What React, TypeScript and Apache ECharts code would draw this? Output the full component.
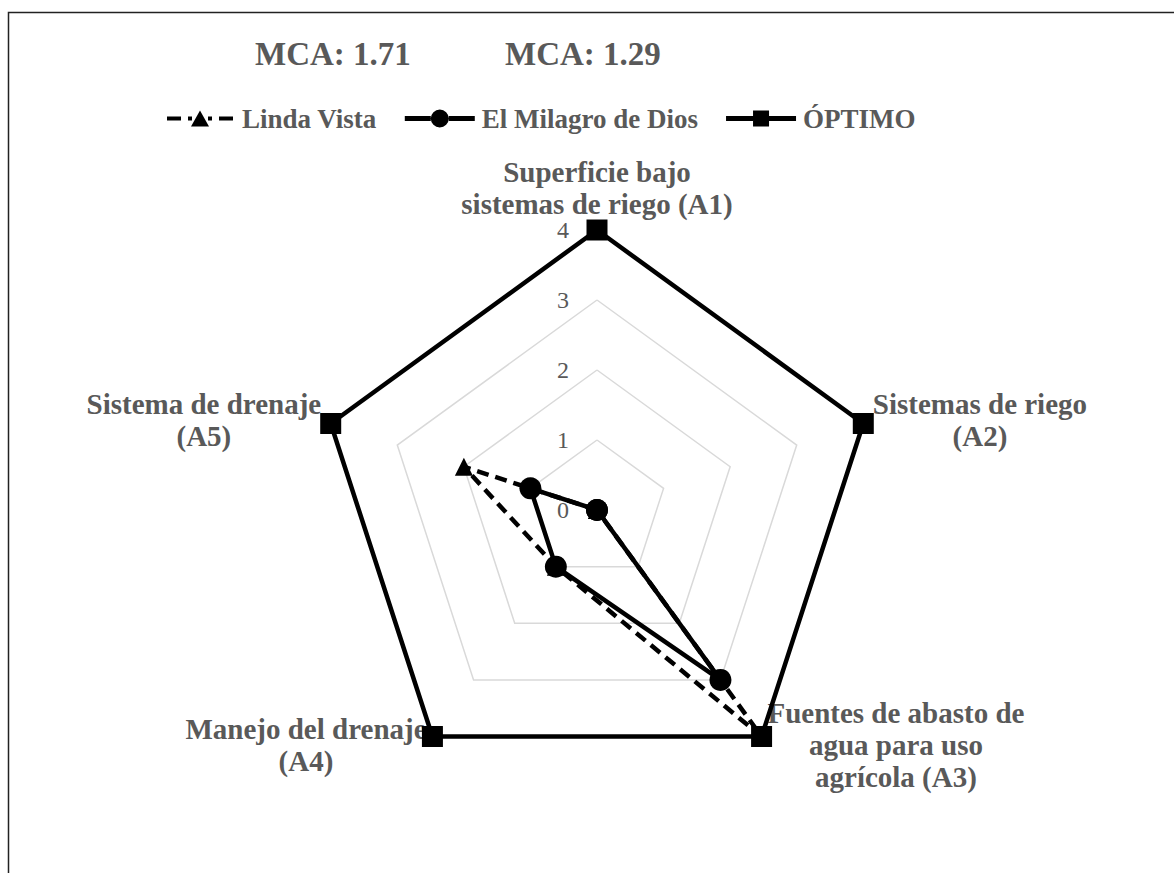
import React, { useEffect, useRef } from "react";
import * as echarts from "echarts";

const indicatorNames = [
  "Superficie bajo\nsistemas de riego (A1)",
  "Sistemas de riego\n(A2)",
  "Fuentes de abasto de\nagua para uso\nagrícola (A3)",
  "Manejo del drenaje\n(A4)",
  "Sistema de drenaje\n(A5)",
];
const seriesNames = ["Linda Vista", "El Milagro de Dios", "ÓPTIMO"];
const lindaVista = [0, 0, 4, 1, 2];
const milagro = [0, 0, 3, 1, 1];
const optimo = [4, 4, 4, 4, 4];
const axisMax = 4;
const titles = ["MCA: 1.71", "MCA: 1.29"];

const FONT = "'Liberation Serif', 'Times New Roman', serif";
const GREY = "#595959";

// ECharts lays radar axes counter-clockwise; the reference goes clockwise
const clockwise = <T,>(arr: T[]): T[] => [arr[0], ...arr.slice(1).reverse()];

// legend icon paths (70 x 20 boxes)
const iconTriangle =
  "path://M0,0 L0.01,0 Z M2,8 L16,8 L16,12 L2,12 Z M23,8 L27,8 L27,12 L23,12 Z M26,18 L35,2 L44,18 Z M43,8 L47,8 L47,12 L43,12 Z M54,8 L68,8 L68,12 L54,12 Z M70,20 L69.99,20 Z";
const iconCircle =
  "path://M0,0 L0.01,0 Z M0,7.5 L26,7.5 L26,12.5 L0,12.5 Z M26,10 A9,9 0 1,0 44,10 A9,9 0 1,0 26,10 Z M44,7.5 L70,7.5 L70,12.5 L44,12.5 Z M70,20 L69.99,20 Z";
const iconSquare =
  "path://M0,0 L0.01,0 Z M0,7.5 L27,7.5 L27,12.5 L0,12.5 Z M27,2 L43,2 L43,18 L27,18 Z M43,7.5 L70,7.5 L70,12.5 L43,12.5 Z M70,20 L69.99,20 Z";

export default function App() {
  const ref = useRef<HTMLDivElement>(null);
  useEffect(() => {
    if (!ref.current) return;
    const chart = echarts.init(ref.current, undefined, { renderer: "svg" });
    const indicator = clockwise(indicatorNames).map((n, i) => {
      const o: any = { name: n, min: 0, max: axisMax };
      if (i === 0) {
        o.axisLabel = {
          show: true,
          color: GREY,
          fontFamily: FONT,
          fontSize: 24,
          margin: 28,
        };
      }
      return o;
    });
    const option: any = {
      animation: false,
      backgroundColor: "#ffffff",
      title: titles.map((t, i) => ({
        text: t,
        left: i === 0 ? 250 : 500,
        top: 32,
        textStyle: { fontFamily: FONT, fontWeight: "bold", fontSize: 33, color: GREY },
      })),
      legend: {
        left: 160,
        top: 100,
        itemWidth: 70,
        itemHeight: 20,
        itemGap: 28,
        textStyle: { fontFamily: FONT, fontWeight: "bold", fontSize: 27, color: GREY, padding: [0, 0, 0, 2] },
        data: [
          { name: seriesNames[0], icon: iconTriangle },
          { name: seriesNames[1], icon: iconCircle },
          { name: seriesNames[2], icon: iconSquare },
        ],
      },
      radar: {
        center: [597, 510],
        radius: 280,
        startAngle: 90,
        splitNumber: 4,
        shape: "polygon",
        nameGap: 10,
        axisName: {
          formatter: (name: string) =>
            name
              .split("\n")
              .map((l) => `{n|${l}}`)
              .join("\n"),
          rich: {
            n: {
              align: "center",
              fontFamily: FONT,
              fontWeight: "bold",
              fontSize: 29,
              lineHeight: 32,
              color: GREY,
            },
          },
        },
        splitLine: { lineStyle: { color: "#d9d9d9", width: 1.5 } },
        splitArea: { show: false },
        axisLine: { show: false },
        axisTick: { show: false },
        axisLabel: { show: false },
        indicator,
      },
      graphic: [
        {
          type: "rect",
          shape: { x: 8.5, y: 12.5, width: 1400, height: 1000 },
          style: { fill: "none", stroke: "#222", lineWidth: 1.5 },
          silent: true,
        },
      ],
      series: [
        {
          type: "radar",
          z: 3,
          data: [
            {
              name: seriesNames[0],
              value: clockwise(lindaVista),
              symbol: "triangle",
              symbolSize: 18,
              lineStyle: { color: "#000", width: 4.5, type: [12, 7] },
              itemStyle: { color: "#000" },
            },
          ],
        },
        {
          type: "radar",
          z: 4,
          data: [
            {
              name: seriesNames[1],
              value: clockwise(milagro),
              symbol: "circle",
              symbolSize: 22,
              lineStyle: { color: "#000", width: 4.5 },
              itemStyle: { color: "#000" },
            },
          ],
        },
        {
          type: "radar",
          z: 2,
          data: [
            {
              name: seriesNames[2],
              value: clockwise(optimo),
              symbol: "rect",
              symbolSize: 21,
              lineStyle: { color: "#000", width: 4.5 },
              itemStyle: { color: "#000" },
            },
          ],
        },
      ],
    };
    chart.setOption(option);
    return () => chart.dispose();
  }, []);
  return (
    <div
      ref={ref}
      style={{ position: "absolute", left: 0, top: 0, width: 1174, height: 873, background: "#fff" }}
    />
  );
}
